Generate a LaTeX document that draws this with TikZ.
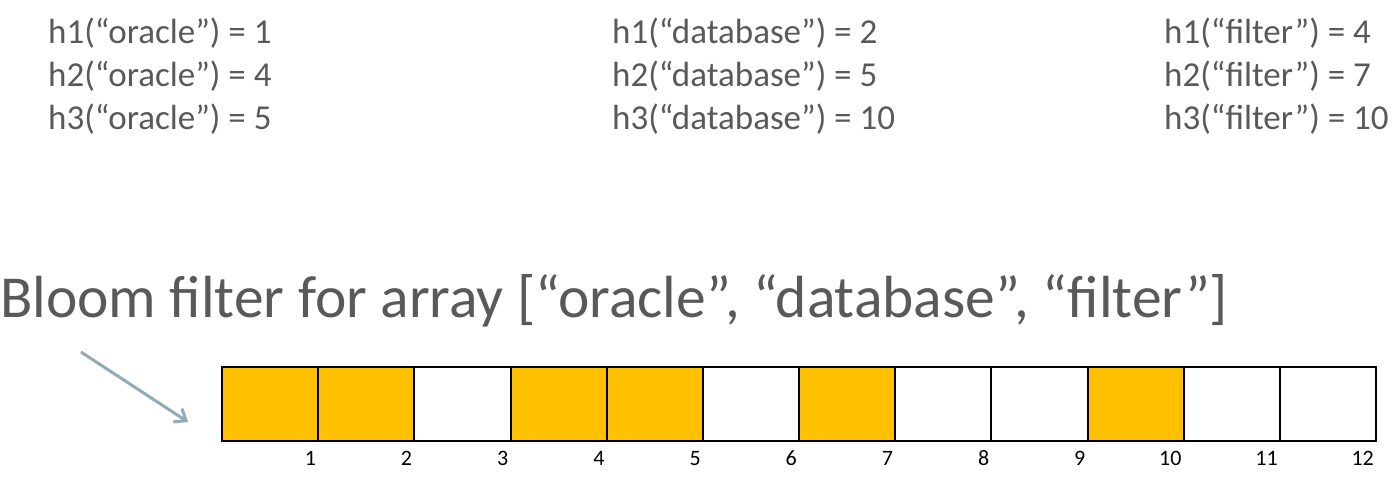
\documentclass[tikz,border=0pt]{standalone}
\usepackage{fontspec}
\setmainfont{Carlito}
\usetikzlibrary{arrows.meta}
\definecolor{txtgrey}{HTML}{595959}
\definecolor{bitset}{HTML}{FFC000}
\definecolor{arrowc}{HTML}{93AAB7}
\begin{document}
\begin{tikzpicture}[x=1pt,y=-1pt,
  hashtxt/.style={anchor=base west,inner sep=0,text=txtgrey,font=\fontsize{35}{40}\selectfont},
  cell/.style={draw=black,line width=2pt,minimum width=96.17pt,minimum height=74pt,inner sep=0,outer sep=0,anchor=north west},
  onecell/.style={cell,fill=bitset},
  zerocell/.style={cell,fill=white},
  idx/.style={anchor=base east,inner sep=0,font=\fontsize{22}{26}\selectfont}]
\useasboundingbox (0,0) rectangle (1397,477);
\node[hashtxt] (a1) at (48,43) {h1(“oracle”) = 1};
\node[hashtxt] (a2) at (48,86) {h2(“oracle”) = 4};
\node[hashtxt] (a3) at (48,129) {h3(“oracle”) = 5};
\node[hashtxt] (b1) at (612,43) {h1(“database”) = 2};
\node[hashtxt] (b2) at (612,86) {h2(“database”) = 5};
\node[hashtxt] (b3) at (612,129) {h3(“database”) = 10};
\node[hashtxt] (c1) at (1164,43) {h1(“filter”) = 4};
\node[hashtxt] (c2) at (1164,86) {h2(“filter”) = 7};
\node[hashtxt] (c3) at (1164,129) {h3(“filter”) = 10};
\node[anchor=base west,inner sep=0,text=txtgrey,font=\fontsize{59.5}{66}\selectfont] (title) at (0,317) {Bloom filter for array [“oracle”, “database”, “filter”]};
\foreach \i/\s in {1/onecell,2/onecell,3/zerocell,4/onecell,5/onecell,6/zerocell,7/onecell,8/zerocell,9/zerocell,10/onecell,11/zerocell,12/zerocell}{
  \node[\s] (cell\i) at ({222+(\i-1)*96.17},367) {};
  \node[idx] (n\i) at ({222+\i*96.17-2},465) {\i};
}
\coordinate (as) at (81,352);
\coordinate (ae) at (188,422);
\draw[arrowc,line width=3pt,-{Straight Barb[length=10pt,width=16pt]}] (as) -- (ae);
\end{tikzpicture}
\end{document}
